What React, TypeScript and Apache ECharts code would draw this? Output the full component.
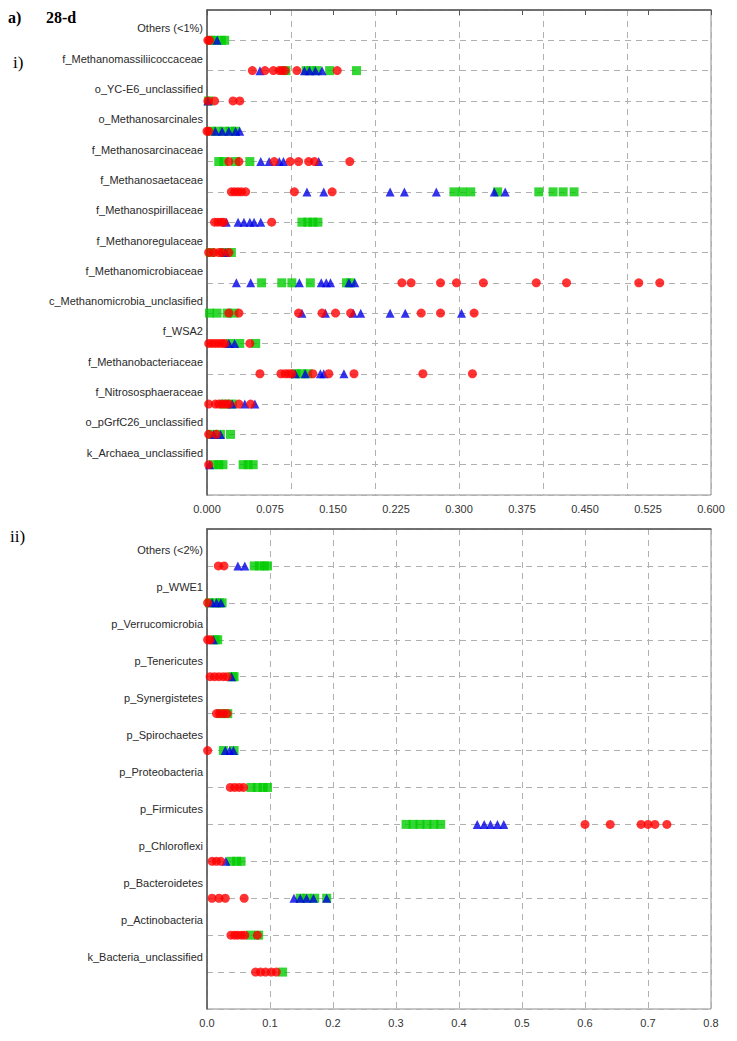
import { useEffect, useRef } from "react";
import * as echarts from "echarts";

const topRows = [
  "Others (<1%)",
  "f_Methanomassiliicoccaceae",
  "o_YC-E6_unclassified",
  "o_Methanosarcinales",
  "f_Methanosarcinaceae",
  "f_Methanosaetaceae",
  "f_Methanospirillaceae",
  "f_Methanoregulaceae",
  "f_Methanomicrobiaceae",
  "c_Methanomicrobia_unclasified",
  "f_WSA2",
  "f_Methanobacteriaceae",
  "f_Nitrososphaeraceae",
  "o_pGrfC26_unclassified",
  "k_Archaea_unclassified",
];

const topRed = [
  [0.001, 0.003],
  [0.054, 0.069, 0.079, 0.086, 0.089, 0.093, 0.107, 0.155],
  [0.001, 0.009, 0.031, 0.039],
  [0.0, 0.002],
  [0.026, 0.038, 0.08, 0.099, 0.109, 0.121, 0.128, 0.17],
  [0.029, 0.033, 0.037, 0.041, 0.046, 0.104, 0.149],
  [0.009, 0.013, 0.017, 0.02, 0.077],
  [0.002, 0.008, 0.014, 0.018, 0.026],
  [0.232, 0.243, 0.278, 0.297, 0.329, 0.392, 0.428, 0.514, 0.539],
  [0.026, 0.038, 0.109, 0.137, 0.153, 0.171, 0.255, 0.278, 0.318],
  [0.002, 0.006, 0.01, 0.014, 0.018, 0.021, 0.051],
  [0.063, 0.088, 0.093, 0.097, 0.101, 0.126, 0.145, 0.175, 0.257, 0.316],
  [0.002, 0.01, 0.014, 0.018, 0.022, 0.026, 0.038, 0.052],
  [0.002, 0.011],
  [0.002],
];

const topBlue = [
  [0.012],
  [0.063, 0.116, 0.122, 0.129, 0.137],
  [0.001],
  [0.01, 0.018, 0.026, 0.034, 0.039],
  [0.064, 0.074, 0.086, 0.091, 0.133],
  [0.119, 0.139, 0.218, 0.235, 0.273, 0.342, 0.355],
  [0.023, 0.037, 0.044, 0.051, 0.056, 0.064],
  [0.022],
  [0.035, 0.052, 0.11, 0.136, 0.142, 0.147, 0.169, 0.176],
  [0.113, 0.141, 0.174, 0.183, 0.218, 0.236, 0.303],
  [0.026, 0.033],
  [0.105, 0.117, 0.135, 0.139, 0.163],
  [0.03, 0.045, 0.057],
  [0.008, 0.016],
  [0.003],
];

const topGreen = [
  [0.005, 0.009, 0.017, 0.021],
  [0.094, 0.118, 0.124, 0.131, 0.146, 0.178],
  [0.002],
  [0.005, 0.012, 0.02, 0.028, 0.034],
  [0.014, 0.02, 0.034, 0.051],
  [0.294, 0.304, 0.314, 0.346, 0.395, 0.412, 0.424, 0.437],
  [0.113, 0.12, 0.126, 0.132],
  [0.004, 0.02, 0.029],
  [0.065, 0.089, 0.101, 0.123, 0.166, 0.171],
  [0.003, 0.012, 0.024, 0.032],
  [0.028, 0.039, 0.058],
  [0.106, 0.112, 0.12],
  [0.02, 0.03],
  [0.006, 0.016, 0.028],
  [0.008, 0.014, 0.019, 0.043, 0.049, 0.055],
];

const botRows = [
  "Others (<2%)",
  "p_WWE1",
  "p_Verrucomicrobia",
  "p_Tenericutes",
  "p_Synergistetes",
  "p_Spirochaetes",
  "p_Proteobacteria",
  "p_Firmicutes",
  "p_Chloroflexi",
  "p_Bacteroidetes",
  "p_Actinobacteria",
  "k_Bacteria_unclassified",
];

const botRed = [
  [0.018, 0.027],
  [0.001],
  [0.001, 0.005],
  [0.005, 0.012, 0.019, 0.026, 0.032],
  [0.015, 0.02, 0.026, 0.032],
  [0.001],
  [0.037, 0.044, 0.051, 0.058],
  [0.6, 0.64, 0.689, 0.7, 0.711, 0.73],
  [0.008, 0.015, 0.022],
  [0.008, 0.019, 0.029, 0.059],
  [0.038, 0.044, 0.049, 0.055, 0.06, 0.08],
  [0.077, 0.085, 0.093, 0.102, 0.11],
];

const botBlue = [
  [0.049, 0.06],
  [0.008, 0.015, 0.022],
  [0.01],
  [0.039],
  [],
  [0.029, 0.036, 0.042],
  [],
  [0.429, 0.44, 0.45, 0.461, 0.471],
  [0.03],
  [0.138, 0.148, 0.158, 0.169, 0.19],
  [],
  [],
];

const botGreen = [
  [0.075, 0.083, 0.091, 0.096],
  [0.004, 0.012, 0.02, 0.024],
  [0.013, 0.017],
  [0.041, 0.043],
  [0.022, 0.033],
  [0.026, 0.043],
  [0.07, 0.08, 0.089, 0.096],
  [0.316, 0.327, 0.338, 0.349, 0.36, 0.371],
  [0.038, 0.047, 0.054],
  [0.148, 0.159, 0.171, 0.19],
  [0.069, 0.082],
  [0.12],
];

const RED = "#ff0000";
const BLUE = "#0000e6";
const GREEN = "#00cc00";

function toPoints(rows: number[][]) {
  return rows.flatMap((vals, i) => vals.map((v) => [v, i + 1]));
}

export default function App() {
  const ref = useRef<HTMLDivElement>(null);
  useEffect(() => {
    const chart = echarts.init(ref.current!, null, { renderer: "svg" });
    const dash = { type: [6, 5], color: "#b0b0b0", width: 1 };
    const axisLine = { show: true, lineStyle: { color: "#555", width: 1.5 } };
    const rowLabel = {
      fontSize: 11,
      fontFamily: "'Liberation Sans', Arial, sans-serif",
      color: "#2a2a2a",
      margin: 4,
      verticalAlign: "middle",
    };
    const tickLabel = {
      fontSize: 11,
      fontFamily: "'Liberation Sans Narrow', 'Arial Narrow', 'Liberation Sans', sans-serif",
      color: "#333",
      margin: 8,
    };
    const scatter = (name: string, x: number, y: number, data: any, symbol: string, color: string) => ({
      type: "scatter",
      name,
      xAxisIndex: x,
      yAxisIndex: y,
      data,
      symbol,
      symbolSize: 9,
      itemStyle: { color },
      silent: true,
    });
    const option: any = {
      animation: false,
      backgroundColor: "#ffffff",
      grid: [
        { left: 207, top: 10, width: 504, height: 485, show: true, borderColor: "#8c8c8c", borderWidth: 1 },
        { left: 207, top: 529, width: 504, height: 480, show: true, borderColor: "#8c8c8c", borderWidth: 1 },
      ],
      xAxis: [
        {
          gridIndex: 0,
          type: "value",
          min: 0,
          max: 0.6,
          interval: 0.075,
          axisLine,
          axisTick: { show: true, length: 5, lineStyle: { color: "#555" } },
          axisLabel: { ...tickLabel, formatter: (v: number) => v.toFixed(3) },
          splitLine: { show: false },
        },
        {
          gridIndex: 0,
          type: "value",
          position: "top",
          min: 0,
          max: 0.6,
          interval: 0.1,
          axisLine: { show: false },
          axisTick: { show: false },
          axisLabel: { show: false },
          splitLine: { show: true, lineStyle: dash },
        },
        {
          gridIndex: 1,
          type: "value",
          min: 0,
          max: 0.8,
          interval: 0.1,
          axisLine,
          axisTick: { show: false },
          axisLabel: { ...tickLabel, formatter: (v: number) => v.toFixed(1) },
          splitLine: { show: true, lineStyle: dash },
        },
      ],
      yAxis: [
        {
          gridIndex: 0,
          type: "value",
          inverse: true,
          min: 0,
          max: 16,
          interval: 1,
          axisLine,
          axisTick: { show: false },
          axisLabel: {
            ...rowLabel,
            lineHeight: 24,
            formatter: (v: number) => {
              const n = topRows[Math.round(v) - 1];
              return n ? n + "\n " : "";
            },
          },
          splitLine: { show: true, lineStyle: dash },
        },
        {
          gridIndex: 1,
          type: "value",
          inverse: true,
          min: 0,
          max: 13,
          interval: 1,
          axisLine,
          axisTick: { show: false },
          axisLabel: {
            ...rowLabel,
            lineHeight: 31,
            formatter: (v: number) => {
              const n = botRows[Math.round(v) - 1];
              return n ? n + "\n " : "";
            },
          },
          splitLine: { show: true, lineStyle: dash },
        },
      ],
      series: [
        scatter("green-top", 0, 0, toPoints(topGreen), "rect", GREEN),
        scatter("blue-top", 0, 0, toPoints(topBlue), "triangle", BLUE),
        scatter("red-top", 0, 0, toPoints(topRed), "circle", RED),
        scatter("green-bot", 2, 1, toPoints(botGreen), "rect", GREEN),
        scatter("blue-bot", 2, 1, toPoints(botBlue), "triangle", BLUE),
        scatter("red-bot", 2, 1, toPoints(botRed), "circle", RED),
      ],
      graphic: [
        { type: "text", left: 8, top: 9, style: { text: "a)", font: "bold 16px 'Liberation Serif', serif", fill: "#000" } },
        { type: "text", left: 46, top: 9, style: { text: "28-d", font: "bold 16px 'Liberation Serif', serif", fill: "#000" } },
        { type: "text", left: 13, top: 54, style: { text: "i)", font: "17px 'Liberation Serif', serif", fill: "#000" } },
        { type: "text", left: 10, top: 528, style: { text: "ii)", font: "17px 'Liberation Serif', serif", fill: "#000" } },
      ],
    };
    chart.setOption(option);
    return () => chart.dispose();
  }, []);
  return (
    <div
      ref={ref}
      style={{ position: "absolute", left: 0, top: 0, width: 737, height: 1041, background: "#fff" }}
    />
  );
}
